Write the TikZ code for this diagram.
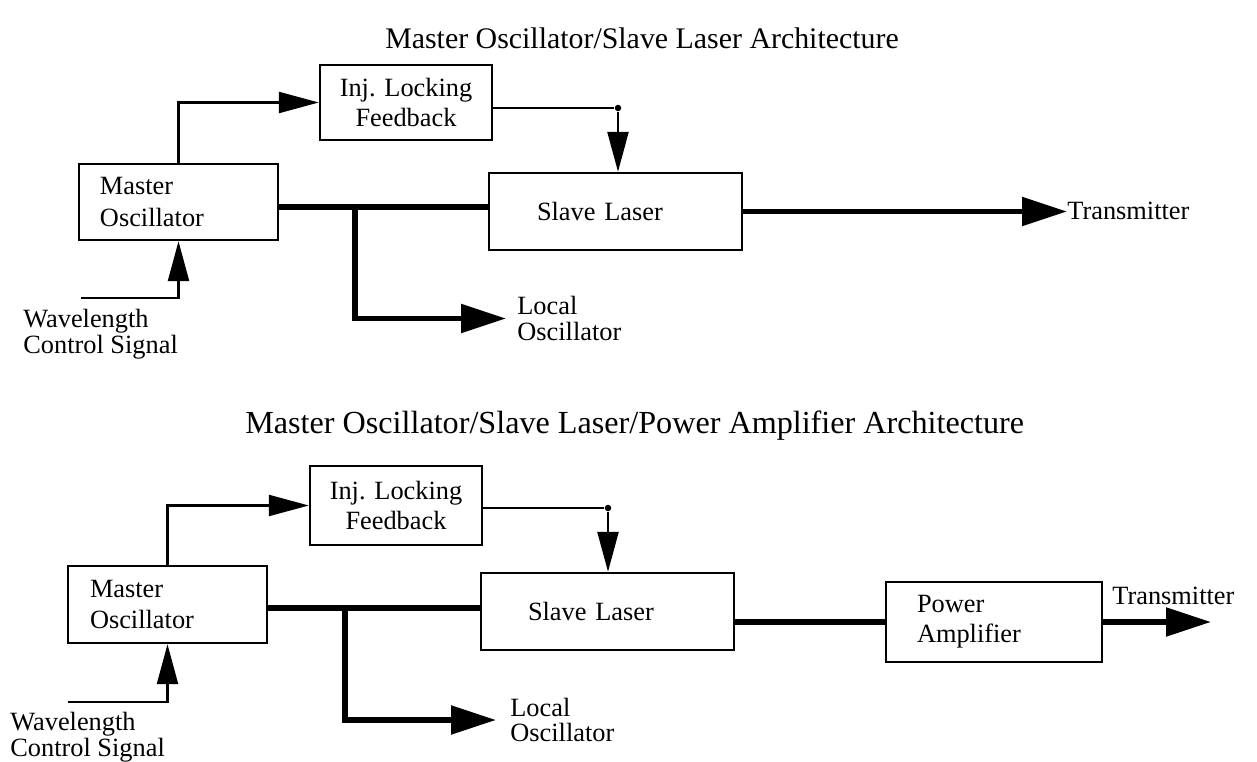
\documentclass[tikz,border=0pt]{standalone}
\usepackage{fontspec}
\setmainfont{Liberation Serif}
\usetikzlibrary{arrows.meta,positioning}
\newcommand{\boxfont}{\fontsize{15}{17}\selectfont}
\newcommand{\mofont}{\fontsize{15}{18.2}\selectfont}
\newcommand{\lblfont}{\fontsize{15}{14.5}\selectfont}
\tikzset{
  block/.style={draw=black, line width=1.4pt, inner sep=0pt, font=\boxfont},
  lbl/.style={inner sep=0pt, font=\lblfont, align=left},
  ttl/.style={inner sep=0pt, anchor=base},
  sig/.style={line width=1.4pt},
  sigarrow/.style={-{Triangle[length=8mm,width=4.2mm]}, line width=1.4pt},
  beam/.style={line width=3pt},
  beamarrow/.style={-{Triangle[length=9mm,width=5.6mm]}, line width=3pt},
  joint/.style={circle, fill=black, inner sep=0pt, minimum size=1.3mm}
}
\begin{document}
\begin{tikzpicture}[x=0.2mm,y=-0.2mm]
  \useasboundingbox (0,0) rectangle (1257,762);
  % upper: master oscillator / slave laser
  \node[ttl, font=\fontsize{17}{20}\selectfont] (ttl1) at (642,49) {Master Oscillator/Slave Laser Architecture};
  \node[block, font=\mofont, minimum width=39.8mm, minimum height=15.2mm, text width=31.4mm, inner xsep=4.2mm, align=left] (mo1) at (178.5,202) {Master\\Oscillator};
  \node[block, minimum width=34.4mm, minimum height=15mm, align=center] (inj1) at (406,102.5) {Inj. Locking\\Feedback};
  \node[block, minimum width=50.6mm, minimum height=15.4mm, text width=31.4mm, inner xsep=9.6mm, align=left] (sl1) at (615.5,211.5) {Slave Laser};
  \node[lbl, anchor=west] (lo1) at (517,318.5) {Local\\Oscillator};
  \node[lbl, anchor=base west] (tx1) at (1067,220) {Transmitter};
  \node[lbl, anchor=west] (wl1) at (23,334) {Wavelength\\Control Signal};
  \node[joint] (j1) at (618,108) {};
  \coordinate (t1) at (355,207);
  \coordinate (w1) at (81,298);
  \draw[sigarrow] (mo1.north) |- (inj1.west);
  \draw[sig] (inj1.east |- j1) -- (j1);
  \draw[sigarrow] (j1) -- (j1 |- sl1.north);
  \draw[beam] (mo1.east |- t1) -- (sl1.west |- t1);
  \draw[beamarrow] (t1) |- ([xshift=-2.2mm]lo1.west);
  \draw[beamarrow] (sl1.east) -- (tx1.west |- sl1.east);
  \draw[sigarrow] (w1) -| (mo1.south);
  % lower: with power amplifier
  \node[ttl, anchor=base west, font=\fontsize{18.3}{21}\selectfont] (ttl2) at (245,433) {Master Oscillator/Slave Laser/Power Amplifier Architecture};
  \node[block, font=\mofont, minimum width=39.8mm, minimum height=15.4mm, text width=31mm, inner xsep=4.4mm, align=left] (mo2) at (167.5,604.5) {Master\\Oscillator};
  \node[block, minimum width=34.4mm, minimum height=15.8mm, align=center] (inj2) at (396,505.5) {Inj. Locking\\Feedback};
  \node[block, minimum width=50.6mm, minimum height=15.4mm, text width=31.8mm, inner xsep=9.4mm, align=left] (sl2) at (607.5,611.5) {Slave Laser};
  \node[block, minimum width=43.2mm, minimum height=16mm, text width=30.8mm, inner xsep=6.2mm, align=left] (pa) at (994,622) {Power\\Amplifier};
  \node[lbl, anchor=west] (lo2) at (510,720) {Local\\Oscillator};
  \node[lbl, anchor=base west] (tx2) at (1112,604) {Transmitter};
  \node[lbl, anchor=west] (wl2) at (10,737) {Wavelength\\Control Signal};
  \node[joint] (j2) at (608,508) {};
  \coordinate (t2) at (345,608);
  \coordinate (w2) at (68,702);
  \coordinate (tx2tip) at (1211,622);
  \draw[sigarrow] (mo2.north) |- (inj2.west);
  \draw[sig] (inj2.east |- j2) -- (j2);
  \draw[sigarrow] (j2) -- (j2 |- sl2.north);
  \draw[beam] (mo2.east |- t2) -- (sl2.west |- t2);
  \draw[beamarrow] (t2) |- ([xshift=-2.8mm]lo2.west);
  \draw[beam] (sl2.east |- pa.west) -- (pa.west);
  \draw[beamarrow] (pa.east) -- (tx2tip);
  \draw[sigarrow] (w2) -| (mo2.south);
\end{tikzpicture}
\end{document}
